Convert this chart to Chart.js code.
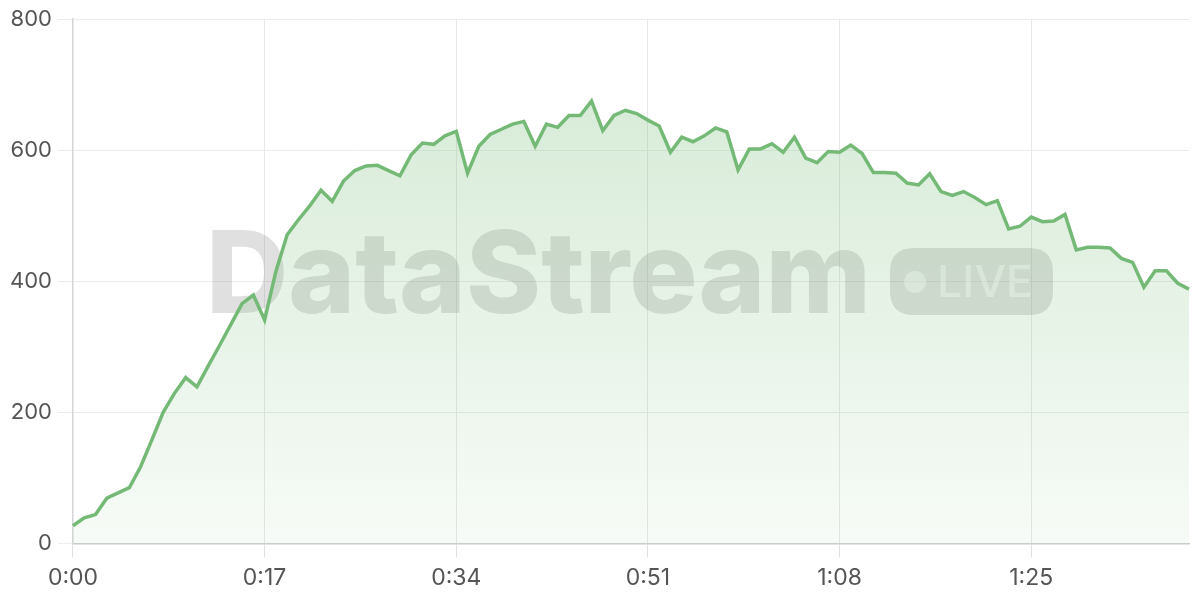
<!DOCTYPE html>
<html>
<head>
<meta charset="utf-8">
<script src="https://cdn.jsdelivr.net/npm/chart.js@4/dist/chart.umd.min.js"></script>
<style>
html,body{margin:0;padding:0;background:#fff;}
#wrap{width:1200px;height:600px;position:relative;}
</style>
</head>
<body>
<div id="wrap"><canvas id="c" width="1200" height="600"></canvas></div>
<script>
const seconds = Array.from({length:100}, (_, i) => i);
const viewers = [
27,39,44,69,77,85,117,158,200,229,
253,239,271,302,334,366,379,341,415,471,
494,515,539,522,553,569,576,577,569,561,
593,611,609,622,629,565,606,624,632,640,
644,606,640,635,653,653,675,630,653,661,
656,646,637,597,620,613,622,634,628,570,
602,602,610,597,620,588,581,598,597,608,
595,566,566,565,550,547,564,537,531,537,
528,517,523,480,484,498,491,492,502,448,
452,452,451,435,429,391,416,416,397,388
];
const tickEvery = 17;
const yTicks = [0,200,400,600,800];
const watermarkMain = "DataStream";
const watermarkBadge = "LIVE";

function fmt(s){ const m=Math.floor(s/60), r=s%60; return m+":"+String(r).padStart(2,"0"); }

function fitText(ctx, text, x, baseline, width){
  const w = ctx.measureText(text).width;
  ctx.save();
  ctx.translate(x, baseline);
  ctx.scale(width / w, 1);
  ctx.fillText(text, 0, 0);
  ctx.restore();
}

const watermark = {
  id:'watermark',
  beforeDatasetsDraw(chart){
    const ctx = chart.ctx;
    ctx.save();
    ctx.fillStyle = 'rgba(120,120,120,0.23)';
    ctx.textBaseline = 'alphabetic';
    ctx.textAlign = 'left';
    ctx.font = '800 114px Inter, "Liberation Sans", sans-serif';
    fitText(ctx, watermarkMain, 206, 313, 665);
    const bx=890, by=248, bw=163, bh=67, r=24;
    ctx.beginPath();
    ctx.moveTo(bx+r,by); ctx.lineTo(bx+bw-r,by); ctx.quadraticCurveTo(bx+bw,by,bx+bw,by+r);
    ctx.lineTo(bx+bw,by+bh-r); ctx.quadraticCurveTo(bx+bw,by+bh,bx+bw-r,by+bh);
    ctx.lineTo(bx+r,by+bh); ctx.quadraticCurveTo(bx,by+bh,bx,by+bh-r);
    ctx.lineTo(bx,by+r); ctx.quadraticCurveTo(bx,by,bx+r,by); ctx.closePath();
    ctx.fill();
    ctx.fillStyle = 'rgba(255,255,255,0.5)';
    ctx.beginPath(); ctx.arc(915,282,11,0,Math.PI*2); ctx.fill();
    ctx.font = '500 44px Inter, "Liberation Sans", sans-serif';
    fitText(ctx, watermarkBadge, 937, 297, 96);
    ctx.restore();
  }
};

const ctx = document.getElementById('c').getContext('2d');
new Chart(ctx, {
  type:'line',
  data:{
    labels: seconds,
    datasets:[{
      data: viewers,
      borderColor:'#74ba76',
      borderWidth:3.5,
      pointRadius:0,
      tension:0,
      fill:true,
      backgroundColor(context){
        const {chart} = context;
        const a = chart.chartArea;
        if(!a) return 'rgba(116,186,118,0.2)';
        const g = chart.ctx.createLinearGradient(0,a.top,0,a.bottom);
        g.addColorStop(0,'rgba(116,186,118,0.32)');
        g.addColorStop(1,'rgba(116,186,118,0.06)');
        return g;
      }
    }]
  },
  options:{
    responsive:false,
    animation:false,
    layout:{padding:{top:8,right:11,left:4,bottom:1}},
    plugins:{legend:{display:false},tooltip:{enabled:false}},
    scales:{
      x:{
        type:'category',
        offset:false,
        grid:{color:'#e8e8e8',tickLength:14,drawTicks:true,tickColor:'#e0e0e0'},
        border:{color:'#cccccc',width:1.5},
        ticks:{
          autoSkip:false,maxRotation:0,color:'#555',
          font:{family:'Inter, "DejaVu Sans", sans-serif',size:23},
          padding:7,
          callback(v,i){ return (seconds[i] % tickEvery===0) ? fmt(seconds[i]) : null; }
        }
      },
      y:{
        min:0,max:800,
        afterBuildTicks(s){ s.ticks = yTicks.map(v=>({value:v})); },
        grid:{color:'#ececec',tickLength:15,tickColor:'#ececec'},
        border:{color:'#d4d4d4',width:1.5},
        ticks:{color:'#555',font:{family:'Inter, "DejaVu Sans", sans-serif',size:22},padding:6}
      }
    }
  },
  plugins:[watermark]
});
</script>
</body>
</html>
